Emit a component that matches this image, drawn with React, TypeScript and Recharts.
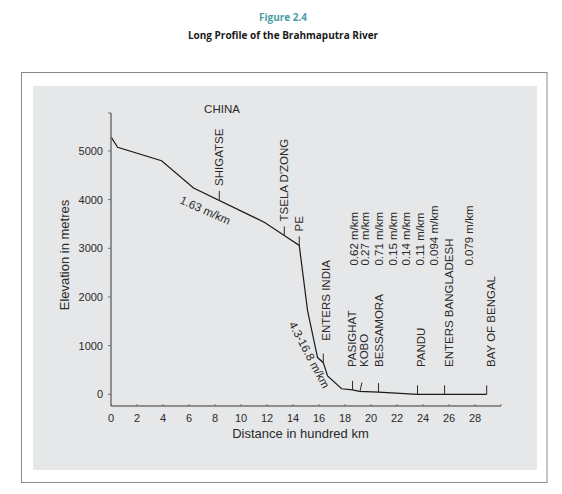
import { ComposedChart, Line, Scatter, XAxis, YAxis } from "recharts";

// river long profile, distance in hundred km vs elevation in metres
const DISTANCE = [0, 0.51, 3.89, 6.35, 11.79, 13.33, 14.48, 15.12, 15.89, 16.33, 16.66, 17.74, 18.58, 19.1, 20.58, 23.58, 25.66, 28.9];
const ELEVATION = [5290, 5075, 4800, 4240, 3535, 3265, 3060, 1720, 755, 650, 380, 115, 90, 60, 45, 0, 0, 0];

const STATIONS = ["SHIGATSE", "TSELA D'ZONG", "PE", "ENTERS INDIA", "PASIGHAT", "KOBO", "BESSAMORA", "PANDU", "ENTERS BANGLADESH", "BAY OF BENGAL"];
const STATION_DIST = [8.33, 13.33, 14.48, 16.33, 18.58, 19.15, 20.58, 23.58, 25.66, 28.9];
const STATION_ELEV = [3995, 3265, 3060, 650, 90, 58, 45, 0, 0, 0];

const GRADIENTS = ["0.62 m/km", "0.27 m/km", "0.71 m/km", "0.15 m/km", "0.14 m/km", "0.11 m/km", "0.094 m/km", "0.079 m/km"];
const GRADIENT_DIST = [18.66, 19.56, 20.58, 21.66, 22.69, 23.77, 24.82, 27.56];

const SLOPE_LABELS = ["1.63 m/km", "4.3-16.8 m/km"];
const SLOPE_DIST = [7.25, 15.25];
const SLOPE_ELEV = [3780, 810];

const X_TICKS = [0, 2, 4, 6, 8, 10, 12, 14, 16, 18, 20, 22, 24, 26, 28];
const Y_TICKS = [0, 1000, 2000, 3000, 4000, 5000];

const FONT = "'Liberation Sans', Arial, sans-serif";
const INK = "#2a2a2a";
const AXIS = "#707070";
const X_MAX = 30;
const Y_MIN = -240;
const Y_MAX = 5780;

const profile = DISTANCE.map((d, i) => ({ dist: d, elev: ELEVATION[i] }));
const stations = STATIONS.map((name, i) => ({ dist: STATION_DIST[i], elev: STATION_ELEV[i], name }));
const gradients = GRADIENTS.map((name, i) => ({ dist: GRADIENT_DIST[i], elev: 2645, name }));
const slopes = SLOPE_LABELS.map((name, i) => ({ dist: SLOPE_DIST[i], elev: SLOPE_ELEV[i], name, angle: i === 0 ? 24 : 62 }));

const LOW_BASE = 367;
// small sideways shifts so the rotated names sit as in the print
const NUDGE: Record<string, number> = {
  "ENTERS INDIA": 3,
  PASIGHAT: -1,
  KOBO: 4,
  PANDU: 3,
  "ENTERS BANGLADESH": 4,
  "BAY OF BENGAL": 4,
};

function StationMark(props: any) {
  const { cx, cy, payload } = props;
  const top = cy - 9;
  const gap = cy > 300 ? 13 : 5;
  const base = Math.min(top - gap, LOW_BASE);
  const bx = cx + 4 + (NUDGE[payload.name] ?? 0);
  const lean = payload.name === "KOBO" ? 2 : 0;
  return (
    <g>
      <line x1={cx} y1={cy} x2={cx + lean} y2={top} stroke={INK} strokeWidth={1} />
      <text x={bx} y={base} transform={`rotate(-90 ${bx} ${base})`} fontSize={11.5} fontFamily={FONT} fill={INK}>
        {payload.name}
      </text>
    </g>
  );
}

function GradientText(props: any) {
  const { cx, cy, payload } = props;
  const bx = cx + 4;
  return (
    <text x={bx} y={cy} transform={`rotate(-90 ${bx} ${cy})`} fontSize={11.5} fontFamily={FONT} fill={INK}>
      {payload.name}
    </text>
  );
}

function SlopeText(props: any) {
  const { cx, cy, payload } = props;
  return (
    <text
      x={cx}
      y={cy}
      textAnchor="middle"
      dominantBaseline="central"
      transform={`rotate(${payload.angle} ${cx} ${cy})`}
      fontSize={11.5}
      fontFamily={FONT}
      fill={INK}
    >
      {payload.name}
    </text>
  );
}

export default function App() {
  return (
    <div style={{ position: "absolute", left: 0, top: 0, width: 562, height: 494, background: "#fff" }}>
      <svg width={562} height={494} style={{ position: "absolute", left: 0, top: 0 }}>
        <rect x={21.5} y={72.5} width={525.5} height={410} fill="none" stroke="#8a8a8a" strokeWidth={1} />
        <rect x={33} y={86} width={504} height={384} fill="#e6e7e8" />
        <text x={283} y={20.5} textAnchor="middle" fontSize={10} fontWeight="bold" fontFamily="'Open Sans', sans-serif" fill="#4a9ea5">
          Figure 2.4
        </text>
        <text x={283} y={38.5} textAnchor="middle" fontSize={10} fontWeight="bold" fontFamily="'Open Sans', sans-serif" fill="#1a1a1a">
          Long Profile of the Brahmaputra River
        </text>
        <text x={222} y={113} textAnchor="middle" fontSize={11.5} fontFamily={FONT} fill={INK}>
          CHINA
        </text>
        <text
          x={64}
          y={255}
          textAnchor="middle"
          dominantBaseline="central"
          transform="rotate(-90 64 255)"
          fontSize={13}
          fontFamily={FONT}
          fill={INK}
        >
          Elevation in metres
        </text>
        <text x={300.5} y={438} textAnchor="middle" fontSize={13} fontFamily={FONT} fill={INK}>
          Distance in hundred km
        </text>
      </svg>
      <div style={{ position: "absolute", left: 0, top: 0 }}>
        <ComposedChart width={562} height={494} data={profile} margin={{ top: 113, right: 61, bottom: 58, left: 61 }}>
          <XAxis
            dataKey="dist"
            type="number"
            domain={[0, X_MAX]}
            ticks={[...X_TICKS, X_MAX]}
            interval={0}
            tickFormatter={(v) => (v === X_MAX ? "" : String(v))}
            height={30}
            axisLine={{ stroke: AXIS, strokeWidth: 1.5 }}
            tickLine={{ stroke: AXIS }}
            tickSize={-2}
            tickMargin={10}
            tick={{ fill: INK, fontSize: 11, fontFamily: FONT }}
          />
          <YAxis
            type="number"
            domain={[Y_MIN, Y_MAX]}
            ticks={[...Y_TICKS, Y_MAX]}
            interval={0}
            tickFormatter={(v) => (v === Y_MAX ? "" : String(v))}
            width={50}
            axisLine={{ stroke: AXIS, strokeWidth: 1.5 }}
            tickLine={{ stroke: AXIS }}
            tickSize={3}
            tickMargin={5}
            tick={{ fill: INK, fontSize: 11, fontFamily: FONT }}
          />
          <Line dataKey="elev" type="linear" stroke="#1a1a1a" strokeWidth={1.2} dot={false} isAnimationActive={false} />
          <Scatter data={stations} dataKey="elev" shape={StationMark} isAnimationActive={false} />
          <Scatter data={gradients} dataKey="elev" shape={GradientText} isAnimationActive={false} />
          <Scatter data={slopes} dataKey="elev" shape={SlopeText} isAnimationActive={false} />
        </ComposedChart>
      </div>
    </div>
  );
}
